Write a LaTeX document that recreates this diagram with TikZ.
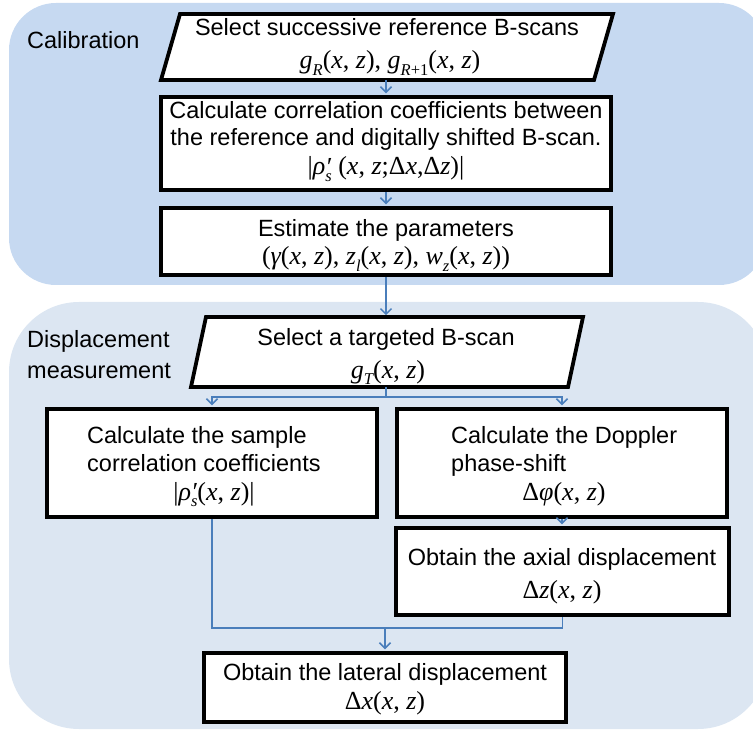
\documentclass[tikz,border=0pt]{standalone}
\usepackage{fontspec}
\setmainfont{Liberation Sans}
\newfontfamily\tms{Liberation Serif}
\usetikzlibrary{arrows.meta}
\definecolor{calib}{HTML}{C6D9F1}
\definecolor{dispm}{HTML}{DCE6F2}
\definecolor{arr}{HTML}{4A7EBB}
\newcommand\mi[1]{{\tms\itshape #1}}
\newcommand\mr[1]{{\tms #1}}
\newcommand\sbs[1]{\raisebox{-0.25em}{\fontsize{16.5}{16.5}\selectfont\tms\itshape #1}}
\newcommand\fxz{\mr{(}\mi{x}\mr{, }\mi{z}\mr{)}}
\newcommand\rhops{\mi{ρ}\rlap{\raisebox{-0.02em}{\tms\itshape ′}}\sbs{s}}
\newcommand\fs{\fontsize{23.5}{28}\selectfont}
\newcommand\fm{\fontsize{26}{28}\selectfont}
\begin{document}
\begin{tikzpicture}[x=1pt,y=-1pt,
  box/.style={draw=black,line width=3.8pt,fill=white,inner sep=0pt,rectangle},
  para/.style={draw=black,line width=3.8pt,fill=white,line join=miter},
  txt/.style={inner sep=0pt,font=\fs,anchor=base},
  frm/.style={inner sep=0pt,font=\fm,anchor=base},
  lbl/.style={inner sep=0pt,font=\fs,anchor=base west},
  link/.style={draw=arr,line width=1.5pt},
  conn/.style={link,-{Straight Barb[length=5.5pt,width=11pt,line width=1.5pt]},shorten >=1.8pt}
]
\useasboundingbox (0,0) rectangle (753,730);
% panels
\fill[calib,rounded corners=47pt] (9,3) rectangle (766,285);
\fill[dispm,rounded corners=70pt] (9,302) rectangle (768,729);
\node[lbl] (lcal) at (27,49) {Calibration};
\node[lbl] (ldis1) at (27,348) {Displacement};
\node[lbl] (ldis2) at (27,378) {measurement};

% calibration
\draw[para] (180,14) -- (613,14) -- (594,80) -- (161,80) -- cycle;
\coordinate (p1s) at (386,80);
\node[box,minimum width=450,minimum height=93] (b2) at (386,143.5) {};
\node[box,minimum width=450,minimum height=67] (b3) at (386,241.5) {};
\coordinate (p2n) at (386,317);
\draw[conn] (p1s) -- (b2.north);
\draw[conn] (b2.south) -- (b3.north);
\draw[conn] (b3.south) -- (p2n);

\node[txt] (t1a) at (387,36) {Select successive reference B-scans};
\node[frm] (t1b) at (390,69) {\mi{g}\sbs{R}\fxz\mr{, }\mi{g}\sbs{R\upshape+1}\fxz};
\node[txt] (t2a) at (386,119) {Calculate correlation coefficients between};
\node[txt] (t2b) at (386,146) {the reference and digitally shifted B-scan.};
\node[frm] (t2c) at (386,175) {\mr{|}\rhops\mr{ (}\mi{x}\mr{, }\mi{z}\mr{;Δ}\mi{x}\mr{,Δ}\mi{z}\mr{)|}};
\node[txt] (t3a) at (386,237) {Estimate the parameters};
\node[frm] (t3b) at (386,265) {\mr{(}\mi{γ}\fxz\mr{, }\mi{z}\sbs{l}\fxz\mr{, }\mi{w}\sbs{z}\fxz\mr{)}};

% displacement measurement
\draw[para] (206,317) -- (583,317) -- (568,387) -- (191,387) -- cycle;
\coordinate (p2s) at (386,387);
\coordinate (brj) at (386,397);
\node[box,minimum width=330,minimum height=108] (lb) at (212,463) {};
\node[box,minimum width=330,minimum height=108] (rb) at (562,463) {};
\node[box,minimum width=333,minimum height=87] (ab) at (562.5,571.5) {};
\node[box,minimum width=362,minimum height=69] (bb) at (385,687.5) {};
\coordinate (mj) at (385,628);

\draw[link] (p2s) -- (brj);
\draw[conn] (brj) -| (lb.north);
\draw[conn] (brj) -| (rb.north);
\draw[conn] (rb.south) -- (rb.south |- ab.north);
\draw[link] (lb.south) |- (mj);
\draw[link] (ab.south) |- (mj);
\draw[conn] (mj) -- (bb.north);

\node[txt] (t4a) at (386,345) {Select a targeted B-scan};
\node[frm] (t4b) at (388,378) {\mi{g}\sbs{T}\fxz};
\node[lbl] (t5a) at (87,443) {Calculate the sample};
\node[lbl] (t5b) at (87,471) {correlation coefficients};
\node[frm] (t5c) at (214,500) {\mr{|}\rhops\fxz\mr{|}};
\node[lbl] (t6a) at (451,443) {Calculate the Doppler};
\node[lbl] (t6b) at (451,471) {phase-shift};
\node[frm] (t6c) at (564,500) {\mr{Δ}\mi{φ}\fxz};
\node[txt] (t7a) at (562,565) {Obtain the axial displacement};
\node[frm] (t7b) at (562,598) {\mr{Δ}\mi{z}\fxz};
\node[txt] (t8a) at (385,680) {Obtain the lateral displacement};
\node[frm] (t8b) at (385,709) {\mr{Δ}\mi{x}\fxz};
\end{tikzpicture}
\end{document}
